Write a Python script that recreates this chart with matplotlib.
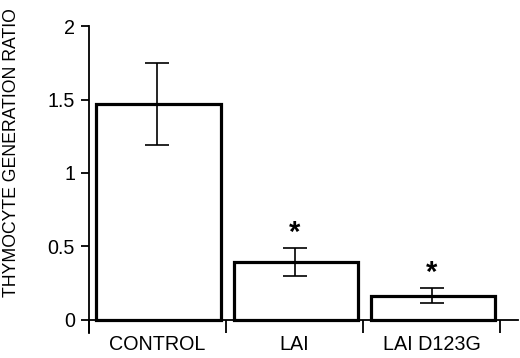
import matplotlib
matplotlib.use("Agg")
import matplotlib.pyplot as plt
import numpy as np

categories = ["CONTROL", "LAI", "LAI D123G"]
values = [1.47, 0.395, 0.163]
err_low = [0.28, 0.095, 0.047]
err_high = [0.28, 0.095, 0.055]
stars = ["", "*", "*"]
star_y = [None, 0.59, 0.32]
yticks = [0, 0.5, 1, 1.5, 2]
ytick_labels = ["0", "0.5", "1", "1.5", "2"]

plt.rcParams['font.family'] = ['Liberation Sans', 'DejaVu Sans']

fig = plt.figure(figsize=(5.2, 3.58), dpi=100)
ax = fig.add_axes([0.171, 0.070, 0.825, 0.857])

x = np.arange(len(categories))
ax.bar(x + 0.01, values, width=0.91, facecolor='white', edgecolor='black', linewidth=2.3, zorder=2)
ax.errorbar(x, values, yerr=[err_low, err_high], fmt='none', ecolor='black',
            elinewidth=1.2, capsize=8.3, capthick=1.2, zorder=3)
for xi, s, sy in zip(x, stars, star_y):
    if s:
        ax.text(xi, sy, s, ha='center', va='center', fontsize=21, fontweight='bold')

ax.set_xlim(-0.5, 2.63)
ax.set_ylim(-0.09, 2.0)
ax.spines['top'].set_visible(False)
ax.spines['right'].set_visible(False)
ax.spines['bottom'].set_position(('data', 0))
ax.spines['left'].set_linewidth(1.3)
ax.spines['bottom'].set_linewidth(1.3)

ax.set_yticks(yticks)
ax.set_yticklabels(ytick_labels)
ax.tick_params(axis='y', direction='out', length=6, width=1.3, labelsize=14.2, pad=4)

ax.set_xticks([-0.5, 0.5, 1.5, 2.5])
ax.set_xticklabels([])
ax.tick_params(axis='x', direction='out', length=9.5, width=1.3)
ax.set_xticks(x, minor=True)
ax.set_xticklabels(categories, minor=True)
ax.tick_params(axis='x', which='minor', length=0, labelsize=14.2, pad=11)

fig.text(0.022, 0.575, "THYMOCYTE GENERATION RATIO", rotation=90, ha='center', va='center', fontsize=12.7)

fig.savefig("out.png", dpi=100)
